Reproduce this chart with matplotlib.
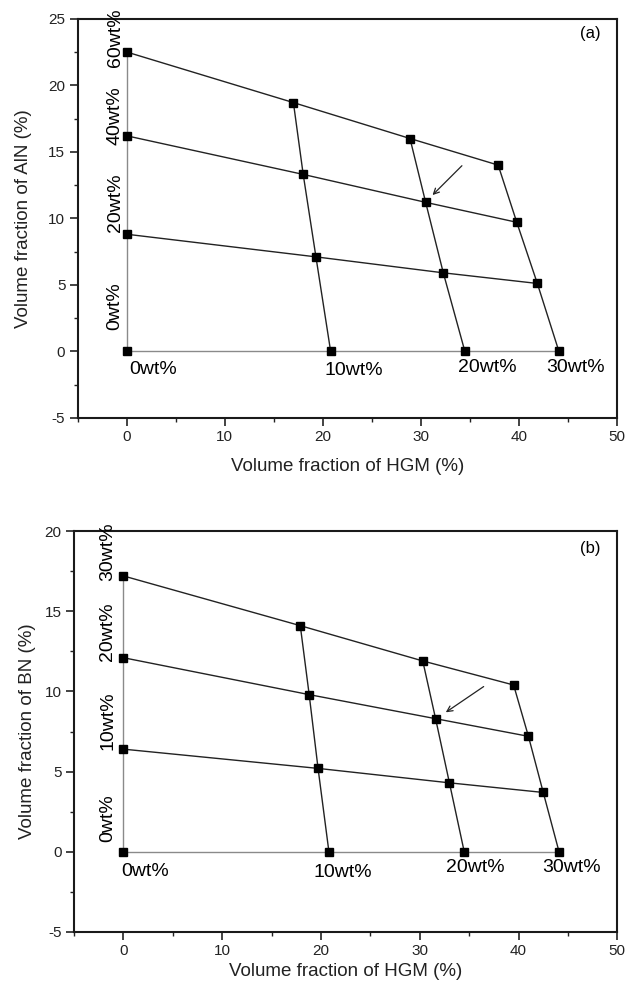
import matplotlib.pyplot as plt
from matplotlib.ticker import MultipleLocator

plt.rcParams['font.family'] = ['Liberation Sans', 'DejaVu Sans']
plt.rcParams['axes.unicode_minus'] = False

# Column (HGM wt%) labels and row (filler wt%) labels
hgm_labels = ["0wt%", "10wt%", "20wt%", "30wt%"]
aln_labels = ["0wt%", "20wt%", "40wt%", "60wt%"]
bn_labels = ["0wt%", "10wt%", "20wt%", "30wt%"]

# Panel (a): rows = AlN 0,20,40,60 wt%; cols = HGM 0,10,20,30 wt%
a_hgm = [[0, 20.8, 34.5, 44.1],
         [0, 19.3, 32.3, 41.9],
         [0, 18.0, 30.5, 39.8],
         [0, 17.0, 28.9, 37.9]]
a_aln = [[0, 0, 0, 0],
         [8.8, 7.1, 5.9, 5.1],
         [16.2, 13.3, 11.2, 9.7],
         [22.5, 18.7, 16.0, 14.0]]

# Panel (b): rows = BN 0,10,20,30 wt%; cols = HGM 0,10,20,30 wt%
b_hgm = [[0, 20.8, 34.5, 44.1],
         [0, 19.7, 33.0, 42.5],
         [0, 18.8, 31.6, 41.0],
         [0, 17.9, 30.3, 39.5]]
b_bn = [[0, 0, 0, 0],
        [6.4, 5.2, 4.3, 3.7],
        [12.1, 9.8, 8.3, 7.2],
        [17.2, 14.1, 11.9, 10.4]]

fig = plt.figure(figsize=(6.28, 9.9), dpi=100)
ax_a = fig.add_axes([0.124, 0.578, 0.858, 0.403])
ax_b = fig.add_axes([0.118, 0.0586, 0.865, 0.405])


def draw(ax, X, Y, row_labels, ylim, ylabel, tag, row_label_x, row_label_y,
         col_label_pos, arrow, xpad, ypad):
    nrows = len(X)
    ncols = len(X[0])
    for i in range(nrows):
        c = '#8a8a8a' if i == 0 else '#222222'
        ax.plot(X[i], Y[i], '-', color=c, lw=1.0, zorder=2)
    for j in range(ncols):
        xs = [X[i][j] for i in range(nrows)]
        ys = [Y[i][j] for i in range(nrows)]
        c = '#8a8a8a' if j == 0 else '#222222'
        ax.plot(xs, ys, '-', color=c, lw=1.0, zorder=2)
    for i in range(nrows):
        ax.plot(X[i], Y[i], 's', color='black', ms=5.5, ls='none', zorder=3)

    for lab, yc in zip(row_labels, row_label_y):
        ax.text(row_label_x, yc, lab, rotation=90, ha='center', va='center',
                fontsize=14, clip_on=False)
    for lab, (xc, yc) in zip(hgm_labels, col_label_pos):
        ax.text(xc, yc, lab, ha='left', va='center', fontsize=14)

    ax.annotate('', xy=arrow[1], xytext=arrow[0],
                arrowprops=dict(arrowstyle='->', lw=0.9, color='#222222',
                                mutation_scale=10))
    ax.text(47.3, ylim[1] - 1.1, tag, ha='center', va='center', fontsize=12)

    ax.set_xlim(-5, 50)
    ax.set_ylim(*ylim)
    ax.xaxis.set_major_locator(MultipleLocator(10))
    ax.xaxis.set_minor_locator(MultipleLocator(5))
    ax.yaxis.set_major_locator(MultipleLocator(5))
    ax.yaxis.set_minor_locator(MultipleLocator(2.5))
    ax.tick_params(which='major', direction='out', length=5.5, width=1.2,
                   labelsize=11, top=False, right=False, colors='#222222')
    ax.tick_params(which='minor', direction='out', length=3, width=1.0,
                   top=False, right=False, colors='#222222')
    for s in ax.spines.values():
        s.set_linewidth(1.5)
        s.set_color('#1a1a1a')
    ax.set_xlabel('Volume fraction of HGM (%)', fontsize=13.5, labelpad=xpad,
                  color='#222222')
    ax.set_ylabel(ylabel, fontsize=13.5, labelpad=ypad, color='#222222')


draw(ax_a, a_hgm, a_aln, aln_labels, (-5, 25), 'Volume fraction of AlN (%)', '(a)',
     -1.2, [3.4, 11.2, 17.7, 23.6],
     [(0.2, -1.4), (20.2, -1.45), (33.8, -1.25), (42.8, -1.25)],
     ((34.4, 14.1), (31.0, 11.6)), 10, 12)
draw(ax_b, b_hgm, b_bn, bn_labels, (-5, 20), 'Volume fraction of BN (%)', '(b)',
     -1.6, [2.1, 8.2, 13.7, 18.7],
     [(-0.2, -1.2), (19.2, -1.3), (32.7, -1.0), (42.4, -1.0)],
     ((36.7, 10.4), (32.4, 8.6)), 3, 6)

fig.savefig('out.png', dpi=100)
